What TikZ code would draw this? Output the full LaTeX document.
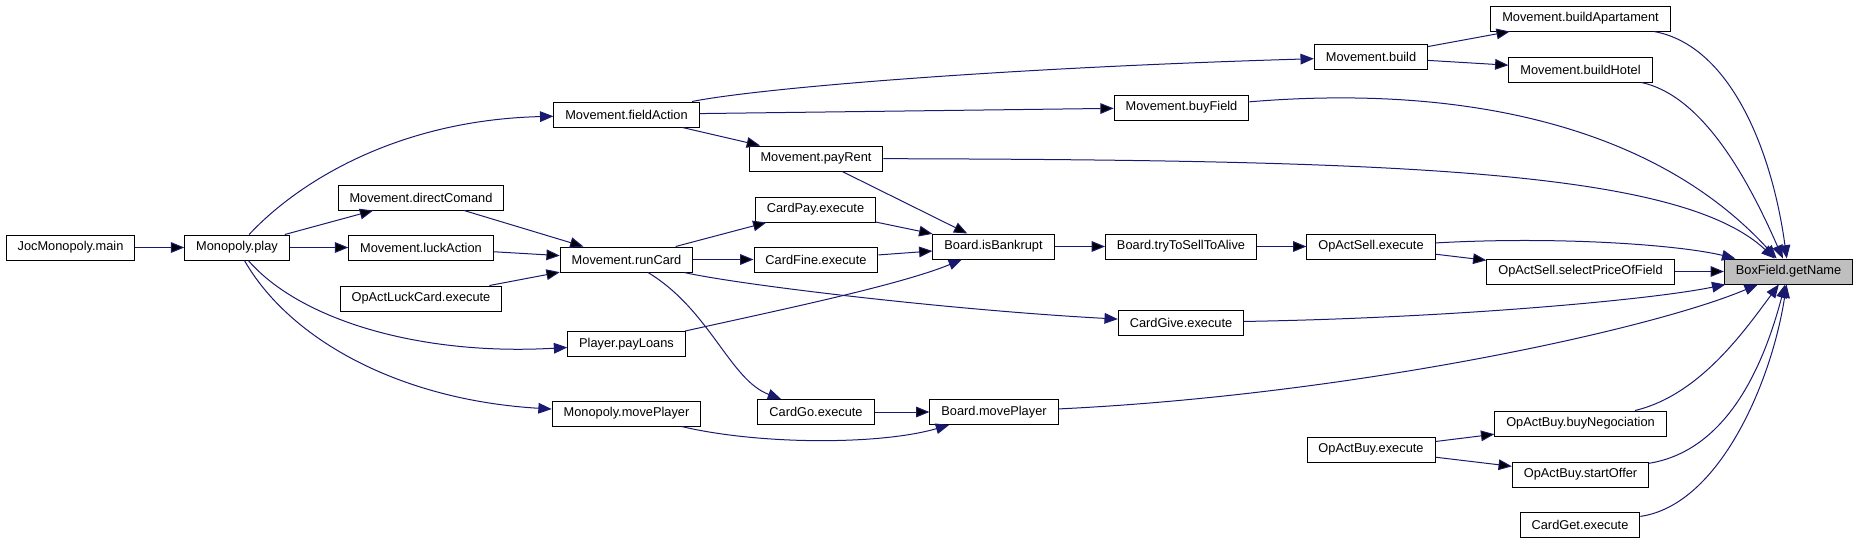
\documentclass[tikz,border=0pt]{standalone}
\usepackage{fontspec}
\setmainfont{Liberation Sans}
\usetikzlibrary{arrows.meta, positioning}
\definecolor{edgeblue}{HTML}{191970}
\definecolor{hitgray}{HTML}{BFBFBF}

\begin{document}
\begin{tikzpicture}[
        x = 0.75pt, y = -0.75pt,
        >= {Triangle[length = 10pt, width = 8pt]},
        fn/.style = {draw = black, line width = 0.75pt, fill = white,
            inner xsep = 8.6pt, inner ysep = 0pt, minimum height = 18.75pt,
            font = \fontsize{9.6}{11}\selectfont},
        call/.style = {->, draw = edgeblue, line width = 0.75pt}
    ]
      \useasboundingbox (0,0) rectangle (1859,544);

      % left part
      \node[fn] (main) at (70.5,247.5) {JocMonopoly.main};
      \node[fn] (play) at (237,247.5) {Monopoly.play};
      \node[fn] (directComand) at (421,197.5) {Movement.directComand};
      \node[fn] (luckAction) at (421,247.5) {Movement.luckAction};
      \node[fn] (luckCard) at (421,298.5) {OpActLuckCard.execute};
      \node[fn] (fieldAction) at (626.5,114.5) {Movement.fieldAction};
      \node[fn] (runCard) at (626.5,259.5) {Movement.runCard};
      \node[fn] (payLoans) at (626.5,344) {Player.payLoans};
      \node[fn] (monoMove) at (626.5,413.5) {Monopoly.movePlayer};

      % middle
      \node[fn] (payRent) at (816,158.5) {Movement.payRent};
      \node[fn] (cardPay) at (815.5,209.5) {CardPay.execute};
      \node[fn] (cardFine) at (816,259.5) {CardFine.execute};
      \node[fn] (cardGo) at (816,412) {CardGo.execute};
      \node[fn] (isBankrupt) at (993.5,246.5) {Board.isBankrupt};
      \node[fn] (boardMove) at (994,412) {Board.movePlayer};
      \node[fn] (buyField) at (1181.5,107.5) {Movement.buyField};
      \node[fn] (sellAlive) at (1181,246.5) {Board.tryToSellToAlive};
      \node[fn] (cardGive) at (1181,322.5) {CardGive.execute};

      % right part
      \node[fn] (build) at (1371,57) {Movement.build};
      \node[fn] (sellExec) at (1371,246.5) {OpActSell.execute};
      \node[fn] (buyExec) at (1371,449.5) {OpActBuy.execute};
      \node[fn] (buildApt) at (1580.5,18.5) {Movement.buildApartament};
      \node[fn] (buildHotel) at (1580.5,69.5) {Movement.buildHotel};
      \node[fn] (selectPrice) at (1580.5,271.5) {OpActSell.selectPriceOfField};
      \node[fn] (buyNeg) at (1580.5,423.5) {OpActBuy.buyNegociation};
      \node[fn] (startOffer) at (1580.5,474.5) {OpActBuy.startOffer};
      \node[fn] (cardGet) at (1580,525) {CardGet.execute};
      \node[fn, fill = hitgray] (getName) at (1788.5,271.5) {BoxField.getName};

      % straight calls
      \path[call] (main) edge (play)
                  (play) edge (directComand)
                  (play) edge (luckAction)
                  (directComand) edge (runCard)
                  (luckAction) edge (runCard)
                  (luckCard) edge (runCard)
                  (fieldAction) edge (buyField)
                  (fieldAction) edge (payRent)
                  (payRent) edge (isBankrupt)
                  (runCard) edge (cardPay)
                  (runCard) edge (cardFine)
                  (cardPay) edge (isBankrupt)
                  (cardFine) edge (isBankrupt)
                  (isBankrupt) edge (sellAlive)
                  (sellAlive) edge (sellExec)
                  (sellExec) edge (selectPrice)
                  (selectPrice) edge (getName)
                  (build) edge (buildApt)
                  (build) edge (buildHotel)
                  (cardGo) edge (boardMove)
                  (buyExec) edge (buyNeg)
                  (buyExec) edge (startOffer);

      % curved calls
      \draw[call] (play) .. controls (300,180) and (400,120) .. (fieldAction);
      \draw[call] (play) .. controls (300,320) and (420,356) .. (payLoans);
      \draw[call] (play) .. controls (290,340) and (400,400) .. (monoMove);
      \draw[call] (fieldAction) .. controls (760,88) and (1000,68) .. (build);
      \draw[call] (runCard) .. controls (710,310) and (730,380) .. (cardGo);
      \draw[call] (runCard) .. controls (740,285) and (950,310) .. (cardGive);
      \draw[call] (payLoans) .. controls (780,310) and (900,285) .. (isBankrupt);
      \draw[call] (monoMove) .. controls (760,445) and (880,445) .. (boardMove);
      \draw[call] (payRent) .. controls (1400,160) and (1680,170) .. (getName);
      \draw[call] (buyField) .. controls (1450,85) and (1650,120) .. (getName);
      \draw[call] (sellExec) .. controls (1560,236) and (1680,245) .. (getName);
      \draw[call] (cardGive) .. controls (1450,318) and (1650,300) .. (getName);
      \draw[call] (boardMove) .. controls (1350,395) and (1650,330) .. (getName);
      \draw[call] (buildApt) .. controls (1730,45) and (1772,150) .. (getName);
      \draw[call] (buildHotel) .. controls (1700,95) and (1745,172) .. (getName);
      \draw[call] (buyNeg) .. controls (1700,395) and (1745,330) .. (getName);
      \draw[call] (startOffer) .. controls (1730,450) and (1765,360) .. (getName);
      \draw[call] (cardGet) .. controls (1720,505) and (1772,380) .. (getName);
    \end{tikzpicture}
\end{document}
